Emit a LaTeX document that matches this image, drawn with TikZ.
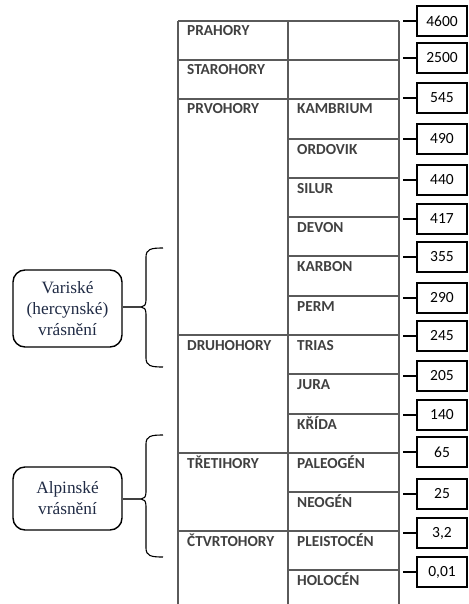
\documentclass[tikz,border=0pt]{standalone}
\usepackage{fontspec}
\setmainfont{Carlito}
\newfontfamily\boxserif{Liberation Serif}
\definecolor{tablegray}{HTML}{5A5A5A}
\definecolor{labelgray}{HTML}{404040}
\definecolor{navytext}{HTML}{1F2A44}
\begin{document}
\begin{tikzpicture}[x=1pt,y=-1pt,
  gridline/.style={draw=tablegray, line width=1.2pt},
  lab/.style={anchor=base west, inner sep=0pt, font=\fontsize{15.3}{17}\selectfont\bfseries, text=labelgray},
  numbox/.style={draw=black, line width=1.4pt, minimum width=50pt, minimum height=30pt, inner sep=0pt, font=\fontsize{15.5}{17}\selectfont},
  stub/.style={draw=black, line width=1.4pt},
  orobox/.style={draw=black, line width=1.4pt, rounded corners=12pt, minimum width=109pt, inner sep=0pt, align=center, text=navytext, font=\boxserif\fontsize{17.3}{21}\selectfont},
  bracel/.style={draw=black, line width=1.1pt},
  link/.style={draw=black!75, line width=1.6pt}]
\useasboundingbox (0,0) rectangle (468,604);

% table grid
\draw[gridline] (178,21) -- (178,604) (288,21) -- (288,604) (399,21) -- (399,604);
\foreach \y in {21,60,99,335,453,531} \draw[gridline] (178,\y) -- (399,\y);
\foreach \y in {139,178,217,256,296,374,414,492,570} \draw[gridline] (288,\y) -- (399,\y);

% era labels
\node[lab] (e1) at (187,36) {PRAHORY};
\node[lab] (e2) at (187,75) {STAROHORY};
\node[lab] (e3) at (187,114) {PRVOHORY};
\node[lab] (e4) at (187,350) {DRUHOHORY};
\node[lab] (e5) at (187,468) {TŘETIHORY};
\node[lab] (e6) at (187,546) {ČTVRTOHORY};

% period labels
\node[lab] (p1) at (297,114) {KAMBRIUM};
\node[lab] (p2) at (297,154) {ORDOVIK};
\node[lab] (p3) at (297,193) {SILUR};
\node[lab] (p4) at (297,232) {DEVON};
\node[lab] (p5) at (297,271) {KARBON};
\node[lab] (p6) at (297,311) {PERM};
\node[lab] (p7) at (297,350) {TRIAS};
\node[lab] (p8) at (297,389) {JURA};
\node[lab] (p9) at (297,429) {KŘÍDA};
\node[lab] (p10) at (297,468) {PALEOGÉN};
\node[lab] (p11) at (297,507) {NEOGÉN};
\node[lab] (p12) at (297,546) {PLEISTOCÉN};
\node[lab] (p13) at (297,585) {HOLOCÉN};

% number boxes with stubs
\foreach \n/\y/\t in {n0/21/4600, n1/58/2500, n2/98/545, n3/139/490, n4/180/440, n5/219/417, n6/257/355, n7/298/290, n8/336/245, n9/376/205, n10/415/140, n11/452/65, n12/494/25, n13/533/{3,2}, n14/572/{0,01}} {
  \node[numbox] (\n) at (442,\y) {\t};
  \coordinate (\n s) at (403,\y);
  \draw[stub] (\n s) -- (\n.west);
}

% orogeny boxes
\node[orobox, minimum height=77pt] (var) at (67.5,308.5) {Variské\\(hercynské)\\vrásnění};
\node[orobox, minimum height=63pt] (alp) at (67.5,498.5) {Alpinské\\vrásnění};

% braces
\coordinate (vtip) at (141,307);
\draw[bracel] (163,248) .. controls (151,248) and (146,249) .. (146,257) -- (146,300)
  .. controls (146,305) and (144,307) .. (vtip) .. controls (144,307) and (146,309) .. (146,314)
  -- (146,358) .. controls (146,366) and (151,367) .. (163,367);
\draw[link] (var.east |- vtip) -- (vtip);

\coordinate (atip) at (141,499);
\draw[bracel] (163,435) .. controls (151,435) and (146,436) .. (146,444) -- (146,492)
  .. controls (146,497) and (144,499) .. (atip) .. controls (144,499) and (146,501) .. (146,506)
  -- (146,548) .. controls (146,556) and (151,557) .. (163,557);
\draw[link] (alp.east |- atip) -- (atip);
\end{tikzpicture}
\end{document}
